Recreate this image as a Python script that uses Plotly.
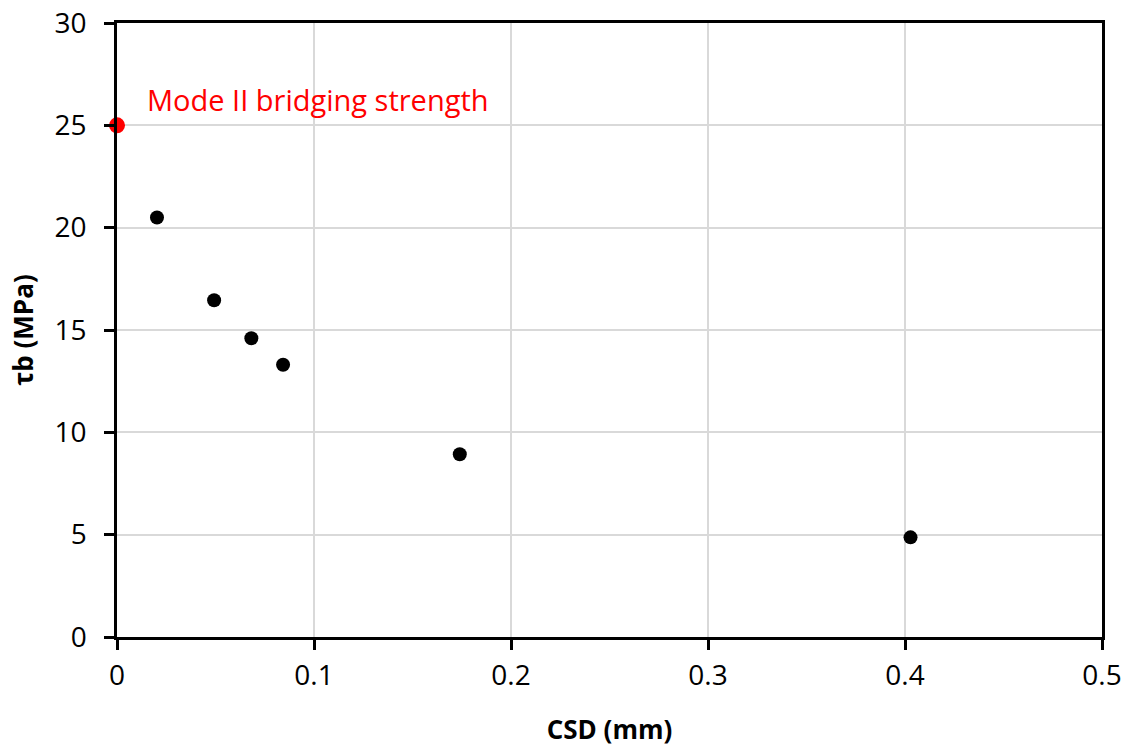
import plotly.graph_objects as go

csd = [0.0203, 0.0493, 0.0682, 0.0843, 0.174, 0.4028]
tau_b = [20.5, 16.45, 14.6, 13.3, 8.93, 4.87]
bridge_x = [0.0]
bridge_y = [25.0]
annot_text = "Mode II bridging strength"

FONT = "Open Sans"

fig = go.Figure()
fig.add_trace(go.Scatter(x=csd, y=tau_b, mode="markers",
                         marker=dict(color="black", size=14), showlegend=False, cliponaxis=False))
fig.add_trace(go.Scatter(x=bridge_x, y=bridge_y, mode="markers",
                         marker=dict(color="#ff0000", size=16), showlegend=False, cliponaxis=False))

fig.add_annotation(x=0.014, y=26.25, xref="x", yref="y", text=annot_text, showarrow=False,
                   xanchor="left", yanchor="middle",
                   font=dict(family=FONT, size=29, color="#ff0000"))

axis_common = dict(showline=True, linecolor="black", linewidth=2.5, mirror=True,
                   ticks="outside", ticklen=10, tickwidth=2.5, tickcolor="black",
                   showgrid=True, gridcolor="#d9d9d9", gridwidth=1.5, zeroline=False,
                   automargin=False,
                   tickfont=dict(family=FONT, size=28, color="black"))

fig.update_xaxes(range=[0, 0.5], tickvals=[0, 0.1, 0.2, 0.3, 0.4, 0.5],
                 ticktext=["0", "0.1", "0.2", "0.3", "0.4", "0.5"],
                 ticklabelstandoff=2,
                 title=dict(text="<b>CSD (mm)</b>", font=dict(family=FONT, size=26, color="black"), standoff=30),
                 **axis_common)
fig.update_yaxes(range=[0, 30], tickvals=[0, 5, 10, 15, 20, 25, 30],
                 ticklabelstandoff=12,
                 title=dict(text="<b>τb (MPa)</b>", font=dict(family=FONT, size=26, color="black"), standoff=14),
                 **axis_common)

fig.update_layout(width=1129, height=747, margin=dict(l=117, r=27, t=23, b=110),
                  plot_bgcolor="white", paper_bgcolor="white")

fig.write_html("out.html")
